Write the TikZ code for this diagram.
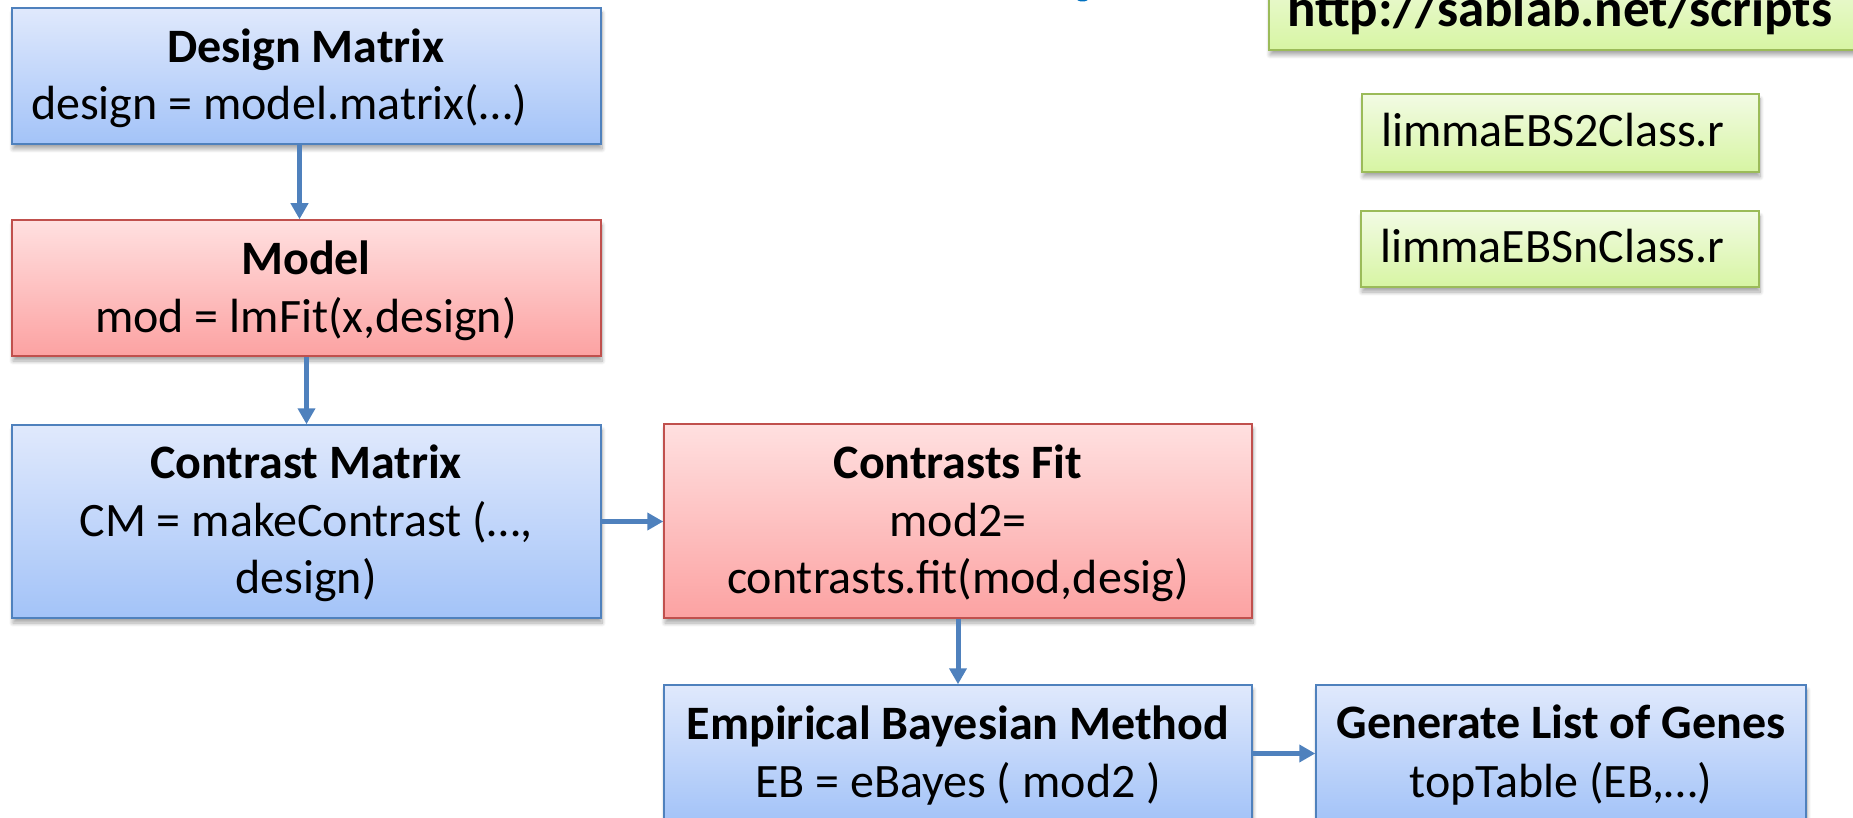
\documentclass[tikz,border=0pt]{standalone}
\usepackage{fontspec}
\setmainfont{Carlito}
\usetikzlibrary{arrows.meta,shadows.blur}

\definecolor{bluetop}{RGB}{224,233,252}
\definecolor{bluebot}{RGB}{163,195,248}
\definecolor{boxblue}{RGB}{79,129,189}
\definecolor{redtop}{RGB}{255,224,224}
\definecolor{redbot}{RGB}{252,162,162}
\definecolor{boxred}{RGB}{192,80,77}
\definecolor{greentop}{RGB}{242,251,228}
\definecolor{greenbot}{RGB}{215,245,163}
\definecolor{boxgreen}{RGB}{155,187,89}
\definecolor{arrowblue}{RGB}{79,129,189}
\definecolor{titleblue}{RGB}{0,112,192}

\tikzset{
  box/.style={rectangle, line width=1.5pt, inner sep=0pt,
    blur shadow={shadow xshift=1pt, shadow yshift=-5pt,
      shadow blur radius=4pt, shadow blur steps=8, shadow opacity=35}},
  bluebox/.style={box, draw=boxblue, top color=bluetop, bottom color=bluebot},
  redbox/.style={box, draw=boxred, top color=redtop, bottom color=redbot},
  greenbox/.style={box, draw=boxgreen, top color=greentop, bottom color=greenbot},
  txt/.style={anchor=base, inner sep=0pt, font=\fontsize{48}{58}\selectfont},
  btxt/.style={txt, font=\fontsize{48}{58}\selectfont\bfseries},
  arr/.style={draw=arrowblue, line width=5pt, -{Triangle[length=16pt,width=17pt]}},
}

\begin{document}
\begin{tikzpicture}[x=1pt,y=-1pt]
\useasboundingbox (0,0) rectangle (1853,818);
\clip (0,0) rectangle (1853,818);

% fragment of a heading cut off by the top edge
\fill[titleblue] (1082.5,-2) ellipse [x radius=6.5, y radius=3.5];

% workflow boxes
\node[bluebox, minimum width=589pt, minimum height=136pt] (dm) at (306.5,76) {};
\node[redbox,  minimum width=589pt, minimum height=136pt] (mod) at (306.5,288) {};
\node[bluebox, minimum width=589pt, minimum height=193pt] (cm) at (306.5,521.5) {};
\node[redbox,  minimum width=588pt, minimum height=194pt] (cf) at (958,521) {};
\node[bluebox, minimum width=588pt, minimum height=137pt] (eb) at (958,753.5) {};
\node[bluebox, minimum width=490pt, minimum height=137pt] (gl) at (1561,753.5) {};

% script boxes
\node[greenbox, minimum width=631pt, minimum height=90pt] (url) at (1584.5,5) {};
\node[greenbox, minimum width=397pt, minimum height=78pt] (l2) at (1560.5,133) {};
\node[greenbox, minimum width=398pt, minimum height=76pt] (ln) at (1560,249) {};

% box texts
\node[btxt] (dmt) at (306,63) {Design Matrix};
\node[txt]  (dmc) at (279,120) {design = model.matrix(…)};
\node[btxt] (modt) at (306,275) {Model};
\node[txt]  (modc) at (306,333) {mod = lmFit(x,design)};
\node[btxt] (cmt) at (306,478) {Contrast Matrix};
\node[txt]  (cmc) at (306,536) {CM = makeContrast (…,};
\node[txt]  (cmd) at (306,593) {design)};
\node[btxt] (cft) at (958,478) {Contrasts Fit};
\node[txt]  (cfc) at (958,536) {mod2=};
\node[txt]  (cfd) at (958,593) {contrasts.fit(mod,desig)};
\node[btxt] (ebt) at (958,739) {Empirical Bayesian Method};
\node[txt]  (ebc) at (958,797) {EB = eBayes ( mod2 )};
\node[btxt] (glt) at (1561,738) {Generate List of Genes};
\node[txt]  (glc) at (1561,797) {topTable (EB,…)};

\node[anchor=base west, inner sep=0pt, font=\fontsize{53}{60}\selectfont\bfseries]
  (urlt) at (1287,27) {http://sablab.net/scripts};
\node[anchor=base west, inner sep=0pt, font=\fontsize{48}{58}\selectfont]
  (l2t) at (1381,147) {limmaEBS2Class.r};
\node[anchor=base west, inner sep=0pt, font=\fontsize{48}{58}\selectfont]
  (lnt) at (1380,263) {limmaEBSnClass.r};

% connectors
\draw[arr] ([xshift=-7pt]dm.south) -- ([xshift=-7pt]mod.north);
\draw[arr] (mod.south) -- (cm.north);
\draw[arr] (cm.east) -- (cm.east -| cf.west);
\draw[arr] (cf.south) -- (eb.north);
\draw[arr] (eb.east) -- (gl.west);
\end{tikzpicture}
\end{document}
